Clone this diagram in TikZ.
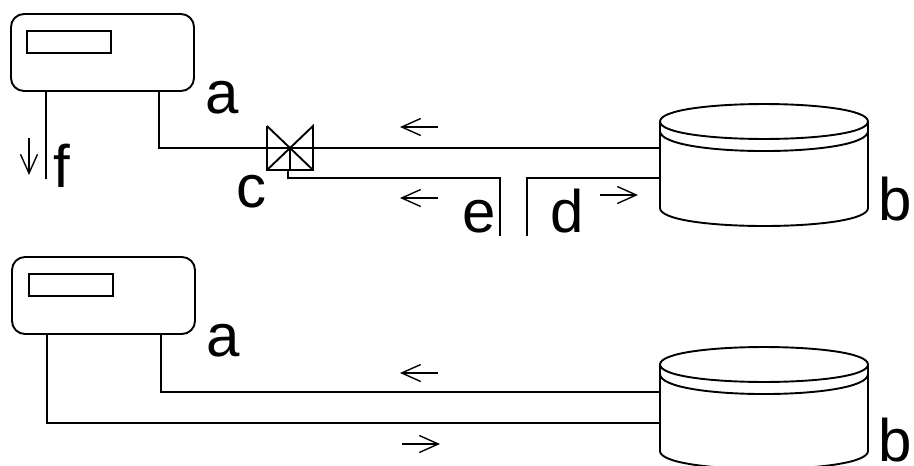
\documentclass[tikz,border=0pt]{standalone}
\usepackage{fontspec}
\setmainfont{Liberation Sans}
\usetikzlibrary{arrows.meta,calc}
\tikzset{
  x=1pt,y=-1pt,
  unitbox/.style={draw,rectangle,rounded corners=13pt,minimum width=183pt,minimum height=77pt,inner sep=0pt,outer sep=0pt,anchor=north west},
  display/.style={draw,rectangle,minimum width=84pt,minimum height=22pt,inner sep=0pt,outer sep=0pt,anchor=north west},
  valvebox/.style={rectangle,minimum width=46pt,minimum height=44pt,inner sep=0pt,outer sep=0pt},
  tankbox/.style={rectangle,minimum width=208pt,minimum height=121pt,inner sep=0pt,outer sep=0pt,anchor=north west},
  lab/.style={inner sep=0pt,outer sep=0pt,anchor=base,font=\fontsize{60}{60}\selectfont},
  flow/.style={line width=1.4pt,-{Straight Barb[length=19pt,width=17pt,line width=1.4pt]}},
  tank/.pic={
    \draw (0,17.5) .. controls (0,-5.8) and (208,-5.8) .. (208,17.5)
                 .. controls (208,40.8) and (0,40.8) .. (0,17.5) -- cycle;
    \draw (0,27) .. controls (0,53.7) and (208,53.7) .. (208,27);
    \draw (0,17.5) -- (0,104) .. controls (0,128) and (208,128) .. (208,104) -- (208,17.5);
  }
}
\begin{document}
\begin{tikzpicture}[line width=1.9pt]
\useasboundingbox (0,0) rectangle (914,466);
\clip (0,0) rectangle (914,466);
% upper system
\node[unitbox] (ua) at (11,14) {};
\node[display] (da) at (27,31) {};
\node[valvebox] (valve) at (290,148) {};
\node[tankbox] (ta) at (660,104) {};
\pic at (ta.north west) {tank};
\draw (valve.north west) -- (valve.south west) -- (valve.south east) -- (valve.north east) -- (valve.south west);
\draw (valve.north west) -- (valve.south east);
\coordinate (ef) at (46,179);
\coordinate (eopen) at (500,236);
\coordinate (dopen) at (527,236);
\draw (ua.south -| ef) -- (ef);
\draw (ua.south -| 159,0) |- (valve.center) -- (valve.center -| ta.west);
\draw (valve.center) -- (valve.south);
\draw (288,170) |- (eopen |- 0,178) -- (eopen);
\draw (dopen) |- (ta.west |- 0,178);
\draw[flow] (29,138) -- (29,175);
\draw[flow] (438,127) -- (400,127);
\draw[flow] (438,198) -- (400,198);
\draw[flow] (600,195) -- (638,195);
\node[lab] (la) at (222,113) {a};
\node[lab] (lb) at (895,220) {b};
\node[lab] (lc) at (251,207) {c};
\node[lab] (ld) at (567,232) {d};
\node[lab] (le) at (479,232) {e};
\node[lab] (lf) at (62,187) {f};
% lower system
\node[unitbox] (ub) at (12,257) {};
\node[display] (db) at (29,274) {};
\node[tankbox] (tb) at (660,347) {};
\pic at (tb.north west) {tank};
\draw (ub.south -| 161,0) |- (tb.west |- 0,392);
\draw (ub.south -| 47,0) |- (tb.west |- 0,423);
\draw[flow] (438,373) -- (400,373);
\draw[flow] (402,444) -- (440,444);
\node[lab] (la2) at (223,356) {a};
\node[lab] (lb2) at (895,461) {b};
\end{tikzpicture}
\end{document}
